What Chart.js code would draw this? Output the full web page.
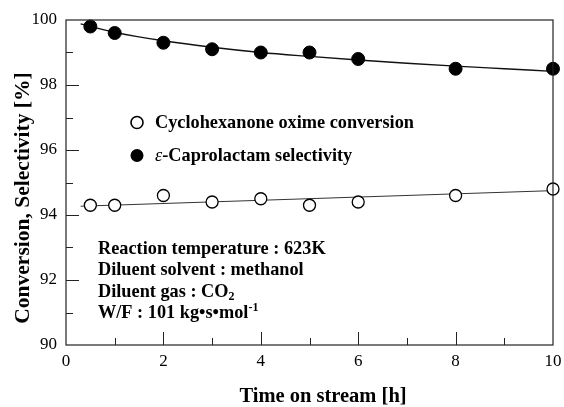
<!DOCTYPE html>
<html><head><meta charset="utf-8">
<script src="https://cdn.jsdelivr.net/npm/chart.js@4.4.1/dist/chart.umd.min.js"></script>
<style>html,body{margin:0;padding:0;background:#fff;}#wrap{width:564px;height:407px;position:relative;}</style>
</head><body><div id="wrap"><canvas id="c" width="564" height="407"></canvas></div>
<script>
const timeHours = [0.5, 1, 2, 3, 4, 5, 6, 8, 10];
const conversion = [94.3, 94.3, 94.6, 94.4, 94.5, 94.3, 94.4, 94.6, 94.8];
const selectivity = [99.8, 99.6, 99.3, 99.1, 99.0, 99.0, 98.8, 98.5, 98.5];
const fitTime = [0.3, 1, 2, 3, 4, 5, 6, 7, 8, 9, 10];
const selectivityFit = [99.88, 99.62, 99.36, 99.16, 99.0, 98.88, 98.77, 98.67, 98.58, 98.5, 98.42];
const conversionFitTime = [0.3, 10];
const conversionFit = [94.27, 94.75];
const xTicks = [0, 2, 4, 6, 8, 10];
const yTicks = [90, 92, 94, 96, 98, 100];
const xTitle = 'Time on stream [h]';
const yTitle = 'Conversion, Selectivity [%]';
const legendLabels = ['Cyclohexanone oxime conversion', 'Caprolactam selectivity'];
const notes = ['Reaction temperature : 623K', 'Diluent solvent : methanol', 'Diluent gas : CO', 'W/F : 101 kg\u2022s\u2022mol'];

const SERIF = '"Liberation Serif", "DejaVu Serif", serif';
const pts = (xs, ys) => xs.map((x, i) => ({x, y: ys[i]}));

const decor = {
  id: 'decor',
  afterDraw(chart) {
    const ctx = chart.ctx, xs = chart.scales.x, ys = chart.scales.y, a = chart.chartArea;
    ctx.save();
    ctx.strokeStyle = '#222'; ctx.lineWidth = 1.2;
    ctx.strokeRect(a.left, a.top, a.right - a.left, a.bottom - a.top);
    // inward ticks
    ctx.lineWidth = 1;
    for (let v = 1; v < 10; v++) {
      const px = Math.round(xs.getPixelForValue(v)) + 0.5;
      const len = v % 2 === 0 ? 13 : 7;
      ctx.beginPath(); ctx.moveTo(px, a.bottom); ctx.lineTo(px, a.bottom - len); ctx.stroke();
    }
    for (let v = 91; v < 100; v++) {
      const py = Math.round(ys.getPixelForValue(v)) + 0.5;
      const len = v % 2 === 0 ? 13 : 7;
      ctx.beginPath(); ctx.moveTo(a.left, py); ctx.lineTo(a.left + len, py); ctx.stroke();
    }
    // axis titles
    ctx.fillStyle = '#000';
    ctx.textAlign = 'center'; ctx.textBaseline = 'alphabetic';
    ctx.font = 'bold 20.5px ' + SERIF;
    ctx.fillText(xTitle, 323, 402);
    ctx.save();
    ctx.translate(29, 198); ctx.rotate(-Math.PI / 2);
    ctx.font = 'bold 21.5px ' + SERIF;
    ctx.fillText(yTitle, 0, 0);
    ctx.restore();
    // legend
    ctx.textAlign = 'left'; ctx.textBaseline = 'middle';
    ctx.beginPath(); ctx.arc(137, 122.5, 6, 0, Math.PI * 2); ctx.fillStyle = '#fff'; ctx.fill();
    ctx.lineWidth = 1.6; ctx.strokeStyle = '#000'; ctx.stroke();
    ctx.beginPath(); ctx.arc(137, 155.5, 6.5, 0, Math.PI * 2); ctx.fillStyle = '#000'; ctx.fill();
    ctx.font = 'bold 18.3px ' + SERIF;
    ctx.fillText(legendLabels[0], 155, 123);
    ctx.font = 'italic 18.3px ' + SERIF;
    ctx.fillText('\u03B5', 155, 156);
    let w = ctx.measureText('\u03B5').width;
    ctx.font = 'bold 18.3px ' + SERIF;
    ctx.fillText('-' + legendLabels[1], 155 + w, 156);
    // notes
    const ny = [249, 270, 292, 313];
    notes.forEach((t, i) => {
      ctx.font = 'bold 18.3px ' + SERIF;
      ctx.fillText(t, 98, ny[i]);
      const tw = ctx.measureText(t).width;
      if (i === 2) { ctx.font = 'bold 12px ' + SERIF; ctx.fillText('2', 98 + tw, ny[i] + 5); }
      if (i === 3) { ctx.font = 'bold 12px ' + SERIF; ctx.fillText('-1', 98 + tw, ny[i] - 5); }
    });
    ctx.restore();
  }
};

new Chart(document.getElementById('c'), {
  type: 'scatter',
  data: {
    datasets: [
      { data: pts(fitTime, selectivityFit), showLine: true, borderColor: '#111', borderWidth: 1.4, pointRadius: 0, cubicInterpolationMode: 'monotone', order: 3 },
      { data: pts(conversionFitTime, conversionFit), showLine: true, borderColor: '#333', borderWidth: 1, pointRadius: 0, order: 4 },
      { data: pts(timeHours, selectivity), pointRadius: 6.5, pointBackgroundColor: '#000', pointBorderColor: '#000', pointBorderWidth: 1, order: 1 },
      { data: pts(timeHours, conversion), pointRadius: 6, pointBackgroundColor: '#fff', pointBorderColor: '#000', pointBorderWidth: 1.3, order: 2 }
    ]
  },
  options: {
    responsive: false, animation: false, clip: false,
    layout: { padding: { left: 0, right: 11, top: 20, bottom: 0 } },
    plugins: { legend: { display: false }, tooltip: { enabled: false } },
    scales: {
      x: {
        type: 'linear', min: 0, max: 10,
        afterBuildTicks: s => { s.ticks = xTicks.map(v => ({value: v})); },
        afterFit: s => { s.height = 62; s.paddingLeft = 0; s.paddingRight = 0; },
        grid: { display: false, drawTicks: false },
        border: { display: false },
        ticks: { color: '#000', font: { family: SERIF, size: 17 }, padding: 6, maxRotation: 0 },
        title: { display: false }
      },
      y: {
        type: 'linear', min: 90, max: 100,
        afterBuildTicks: s => { s.ticks = yTicks.map(v => ({value: v})); },
        afterFit: s => { s.width = 66; s.paddingTop = 0; s.paddingBottom = 0; },
        grid: { display: false, drawTicks: false },
        border: { display: false },
        ticks: { color: '#000', font: { family: SERIF, size: 17 }, padding: 9 },
        title: { display: false }
      }
    }
  },
  plugins: [decor]
});
</script></body></html>
